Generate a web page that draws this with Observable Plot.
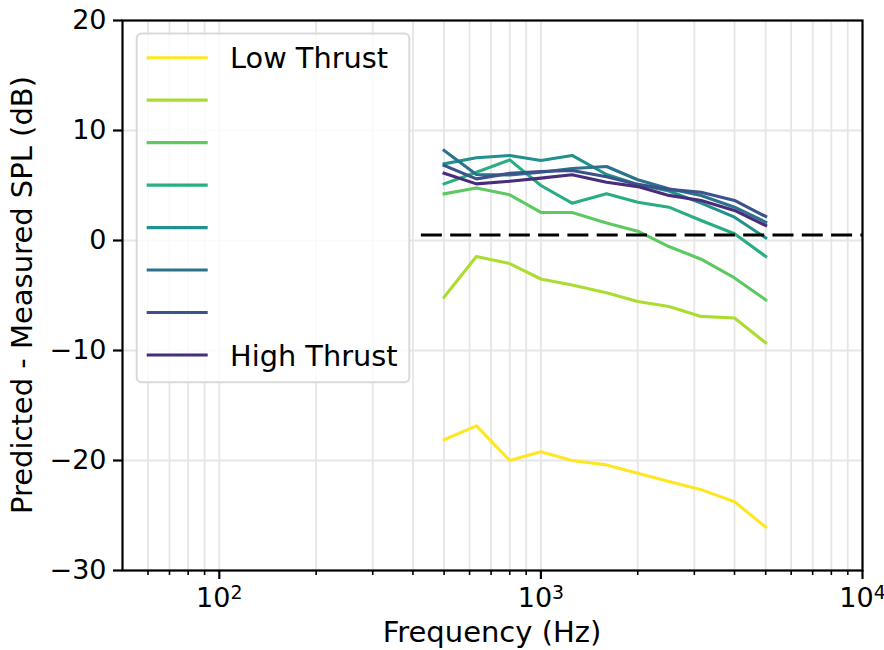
<!DOCTYPE html>
<html>
<head>
<meta charset="utf-8">
<script src="https://cdn.jsdelivr.net/npm/d3@7"></script>
<script src="https://cdn.jsdelivr.net/npm/@observablehq/plot@0.6"></script>
<style>
  body { margin: 0; background: #fff; }
  #chart { width: 884px; height: 650px; }
</style>
</head>
<body>
<div id="chart"></div>
<script>
// ---- data ----
const frequencies = [500, 630, 800, 1000, 1250, 1600, 2000, 2500, 3150, 4000, 5000];
const seriesKeys = ["T1", "T2", "T3", "T4", "T5", "T6", "T7", "T8"];
const legendLabels = ["Low Thrust", "", "", "", "", "", "", "High Thrust"];
const thrust1 = [-18.1, -16.85, -20.0, -19.2, -20.0, -20.4, -21.15, -21.9, -22.65, -23.75, -26.05];
const thrust2 = [-5.15, -1.45, -2.1, -3.5, -4.05, -4.75, -5.55, -6.0, -6.9, -7.05, -9.3];
const thrust3 = [4.24, 4.78, 4.15, 2.55, 2.55, 1.6, 0.85, -0.55, -1.7, -3.4, -5.4];
const thrust4 = [5.15, 6.2, 7.33, 5.0, 3.39, 4.24, 3.48, 3.03, 1.82, 0.61, -1.45];
const thrust5 = [6.97, 7.52, 7.73, 7.27, 7.73, 6.0, 5.1, 4.5, 3.4, 2.12, 0.24];
const thrust6 = [8.18, 6.0, 5.95, 6.2, 6.55, 6.73, 5.52, 4.7, 4.09, 3.03, 1.67];
const thrust7 = [6.82, 5.6, 6.1, 6.27, 6.36, 5.8, 5.1, 4.65, 4.39, 3.64, 2.18];
const thrust8 = [6.12, 5.15, 5.39, 5.67, 5.97, 5.3, 4.9, 4.1, 3.64, 2.73, 1.36];
const seriesValues = [thrust1, thrust2, thrust3, thrust4, thrust5, thrust6, thrust7, thrust8];
const refLevel = 0.5, refStart = 425, refEnd = 10000;
const xDomain = [50, 10000];
const yDomain = [-30, 20];
const yTicks = [-30, -20, -10, 0, 10, 20];
const xMajorTicks = [100, 1000, 10000];
const xMinorTicks = [60, 70, 80, 90, 200, 300, 400, 500, 600, 700, 800, 900,
                     2000, 3000, 4000, 5000, 6000, 7000, 8000, 9000];

// ---- styling ----
const palette = seriesKeys.map((_, i) => d3.interpolateViridis(1 - i / 8));
const FONT = "DejaVu Sans";
const FS = 27;
const FS_LABEL = 29;
const FS_LEGEND = 28.8;

const rows = [];
seriesKeys.forEach((k, i) => {
  frequencies.forEach((f, j) => rows.push({series: k, frequency: f, delta: seriesValues[i][j]}));
});

const plot = Plot.plot({
  width: 884,
  height: 650,
  marginLeft: 122,
  marginRight: 22,
  marginTop: 20,
  marginBottom: 80,
  style: {fontFamily: FONT, fontSize: FS + "px", background: "white", color: "black"},
  x: {type: "log", domain: xDomain, label: null},
  y: {domain: yDomain, label: null},
  color: {domain: seriesKeys, range: palette},
  marks: [
    Plot.ruleX([...xMinorTicks, ...xMajorTicks], {stroke: "#e6e6e6", strokeWidth: 1.8}),
    Plot.ruleY(yTicks, {stroke: "#e6e6e6", strokeWidth: 1.8}),
    Plot.line(rows, {x: "frequency", y: "delta", z: "series", stroke: "series",
                     strokeWidth: 3.1, strokeLinejoin: "round", strokeLinecap: "square"}),
    Plot.ruleY([{level: refLevel, start: refStart, end: refEnd}],
               {y: "level", x1: "start", x2: "end", stroke: "black", strokeWidth: 2.8, strokeDasharray: "21,8.3"}),
    Plot.frame({stroke: "black", strokeWidth: 2.2}),
    Plot.axisX(xMinorTicks, {tickSize: 5, strokeWidth: 1.6, tickFormat: () => "", label: null}),
    Plot.axisX(xMajorTicks, {tickSize: 9, tickPadding: 8, strokeWidth: 2.2, fontSize: FS, label: null,
                             tickFormat: d => "10^" + Math.round(Math.log10(d))}),
    Plot.axisY(yTicks, {tickSize: 9, tickPadding: 7, strokeWidth: 2.2, fontSize: FS, label: null,
                        tickFormat: d => d < 0 ? "\u2212" + Math.abs(d) : String(d)})
  ]
});

const svg = d3.select(plot);

// superscripts on x tick labels
svg.selectAll('g[aria-label="x-axis tick label"] text').each(function() {
  const t = this.textContent;
  if (!t.includes("^")) return;
  const [base, exp] = t.split("^");
  const sel = d3.select(this);
  sel.text(null);
  sel.append("tspan").text(base);
  sel.append("tspan").attr("dy", "-0.4em").attr("font-size", "0.7em").text(exp);
});

// axis titles
svg.append("text")
  .attr("x", 492).attr("y", 642)
  .attr("text-anchor", "middle")
  .attr("font-family", FONT).attr("font-size", FS_LABEL).attr("fill", "black")
  .text("Frequency (Hz)");
svg.append("text")
  .attr("transform", "translate(32,295) rotate(-90)")
  .attr("text-anchor", "middle")
  .attr("font-family", FONT).attr("font-size", FS_LABEL).attr("fill", "black")
  .text("Predicted - Measured SPL (dB)");

// legend
const lg = svg.append("g").attr("font-family", FONT).attr("font-size", FS_LEGEND).attr("text-anchor", "start");
lg.append("rect")
  .attr("x", 136.7).attr("y", 33.5).attr("width", 272.6).attr("height", 348.8)
  .attr("rx", 5).attr("fill", "white").attr("fill-opacity", 0.8)
  .attr("stroke", "#d9d9d9").attr("stroke-width", 2);
seriesKeys.forEach((k, i) => {
  const yy = 57.7 + i * 42.47;
  lg.append("line").attr("x1", 146.7).attr("x2", 207.7).attr("y1", yy).attr("y2", yy)
    .attr("stroke", palette[i]).attr("stroke-width", 3.1);
  if (legendLabels[i]) {
    lg.append("text").attr("x", 230).attr("y", yy).attr("dy", "0.37em")
      .attr("text-anchor", "start").attr("fill", "black").text(legendLabels[i]);
  }
});

document.getElementById("chart").appendChild(plot);
</script>
</body>
</html>
